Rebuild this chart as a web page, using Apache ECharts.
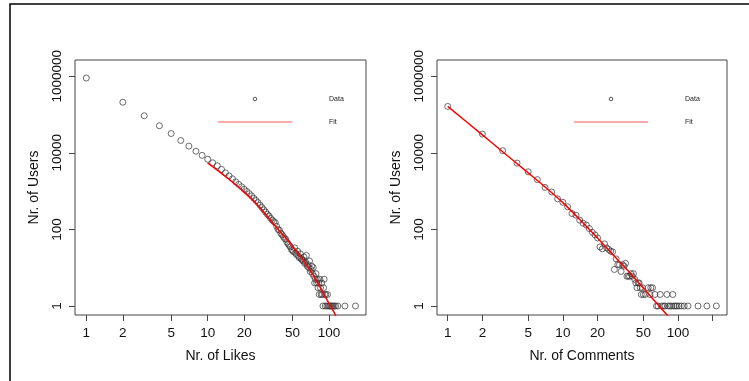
<!DOCTYPE html>
<html>
<head>
<meta charset="utf-8">
<script src="https://cdn.jsdelivr.net/npm/echarts@6/dist/echarts.min.js"></script>
<style>
html,body{margin:0;padding:0;background:#fff;}
#chart{width:749px;height:381px;}
</style>
</head>
<body>
<div id="chart"></div>
<script>
// ---- Data ----
const likesX = [1,2,3,4,5,6,7,8,9,10,11,12,13,14,15,16,17,18,19,20,21,22,23,24,25,26,27,28,29,30,31,32,33,34,35,36,37,38,39,40,41,42,43,44,45,46,47,48,49,50,51,52,53,54,55,56,57,58,59,60,61,62,63,64,65,66,67,68,69,70,71,72,73,74,75,76,77,78,79,80,81,82,83,84,85,86,87,88,89,90,91,92,93,94,96,97,99,101,103,105,107,110,113,118,135,165];
const likesUsers = [900000,210000,93000,51000,32000,21000,15000,11000,8600,6800,5500,4600,3700,3000,2500,2100,1750,1500,1300,1120,980,860,750,650,570,500,430,375,325,285,250,225,195,175,160,150,120,100,95,80,73,65,58,55,46,42,38,35,30,28,26,33,24,22,27,20,18,23,17,16,15,19,13,14,21,11,12,10,15,8,9,11,7,10,6,4,5,7,4,5,3,4,2,5,3,2,4,2,1,3,5,2,1,2,1,2,1,1,1,1,1,1,1,1,1,1];
const likesFitX = [10,12,15,20,25,30,35,40,45,50,60,70,80,90,100,110,115];
const likesFitY = [5500,3550,2040,955,480,250,138,83,55,37,17.4,8.5,4.2,2.1,1.17,0.68,0.5];

const commentsX = [1,2,3,4,5,6,7,8,9,10,11,12,13,14,15,16,17,18,19,20,21,22,23,24,25,26,27,28,29,30,31,32,33,34,35,36,37,38,39,40,41,42,43,44,45,46,47,48,49,50,52,55,57,58,60,63,65,67,70,72,75,77,80,82,85,88,90,92,95,98,102,107,113,122,149,178,215];
const commentsUsers = [163000,31000,11400,5400,3200,2000,1250,950,630,510,390,260,235,175,145,130,105,84,72,60,35,31,42,33,30,27,26,9,17,12,12,8,12,11,13,6,6,6,7,6,7,5,4,3,4,4,3,2,3,2,2,3,2,3,3,2,1,1,2,1,1,1,2,1,1,1,2,1,1,1,1,1,1,1,1,1,1];
const commentsFitX = [1,2,3,5,7,10,15,20,30,40,50,60,70,80,85];
const commentsFitY = [163000,29500,10700,3000,1290,500,148,60,16,6.3,2.95,1.58,0.93,0.59,0.48];

const xTicksLeft = [1,2,5,10,20,50,100];
const xTicksRight = [1,2,5,10,20,50,100,200];
const xLabelsRight = [1,2,5,10,20,50,100];
const yTicks = [1,100,10000,1000000];

const xTitleLeft = 'Nr. of Likes';
const xTitleRight = 'Nr. of Comments';
const yTitle = 'Nr. of Users';
const legendData = 'Data';
const legendFit = 'Fit';

// ---- helpers ----
const lg = v => Math.log10(v);
const pairs = (xs, ys) => xs.map((x, i) => [lg(x), lg(ys[i])]);
const FONT = '"Liberation Sans", Arial, Helvetica, sans-serif';
const fmt = v => String(Math.round(Math.pow(10, v)));

function xAxis(gridIndex, ticks, labels, maxLog, title) {
  return {
    type: 'value', gridIndex,
    min: -0.093, max: maxLog,
    axisLine: {show: false, onZero: false},
    splitLine: {show: false},
    axisTick: {show: true, length: 6, customValues: ticks.map(lg), lineStyle: {color: '#444', width: 1}},
    axisLabel: {customValues: labels.map(lg), formatter: fmt, fontSize: 13.5, color: '#111', fontFamily: FONT, margin: 11},
    name: title, nameLocation: 'middle', nameGap: 34, nameMoveOverlap: false,
    nameTextStyle: {fontSize: 14, color: '#111', fontFamily: FONT}
  };
}
function yAxis(gridIndex) {
  return {
    type: 'value', gridIndex,
    min: -0.235, max: 6.425,
    axisLine: {show: false, onZero: false},
    splitLine: {show: false},
    axisTick: {show: true, length: 6, customValues: yTicks.map(lg), lineStyle: {color: '#444', width: 1}},
    axisLabel: {customValues: yTicks.map(lg), formatter: fmt, fontSize: 13.5, color: '#111', fontFamily: FONT, rotate: 90, margin: 11},
    name: yTitle, nameLocation: 'middle', nameGap: 34, nameMoveOverlap: false,
    nameTextStyle: {fontSize: 14, color: '#111', fontFamily: FONT}
  };
}
function scatter(i, xs, ys) {
  return {type: 'scatter', xAxisIndex: i, yAxisIndex: i, data: pairs(xs, ys),
    symbol: 'circle', symbolSize: 6,
    itemStyle: {color: 'rgba(0,0,0,0)', borderColor: '#333', borderWidth: 0.9}, silent: true};
}
function fit(i, xs, ys) {
  return {type: 'line', xAxisIndex: i, yAxisIndex: i, data: pairs(xs, ys), smooth: 0.3,
    showSymbol: false, clip: true, lineStyle: {color: '#ff0000', width: 1.5}, silent: true};
}
function legendGraphics(cx, lx1, lx2, tx) {
  return [
    {type: 'circle', shape: {cx: cx, cy: 99, r: 1.8}, style: {fill: 'none', stroke: '#444', lineWidth: 0.9}},
    {type: 'line', shape: {x1: lx1, y1: 122, x2: lx2, y2: 122}, style: {stroke: '#ffaaaa', lineWidth: 2}},
    {type: 'text', x: tx, y: 99, style: {text: legendData, fontSize: 7, fill: '#222', fontFamily: FONT, verticalAlign: 'middle'}},
    {type: 'text', x: tx, y: 122, style: {text: legendFit, fontSize: 7, fill: '#222', fontFamily: FONT, verticalAlign: 'middle'}}
  ];
}

const chart = echarts.init(document.getElementById('chart'), null, {renderer: 'canvas'});
chart.setOption({
  animation: false,
  backgroundColor: '#fff',
  grid: [
    {left: 75, top: 60, width: 291, height: 255, show: true, borderColor: '#444', borderWidth: 1, backgroundColor: 'transparent'},
    {left: 437, top: 60, width: 290, height: 255, show: true, borderColor: '#444', borderWidth: 1, backgroundColor: 'transparent'}
  ],
  xAxis: [
    xAxis(0, xTicksLeft, xTicksLeft, 2.304, xTitleLeft),
    xAxis(1, xTicksRight, xLabelsRight, 2.425, xTitleRight)
  ],
  yAxis: [yAxis(0), yAxis(1)],
  series: [
    scatter(0, likesX, likesUsers),
    fit(0, likesFitX, likesFitY),
    scatter(1, commentsX, commentsUsers),
    fit(1, commentsFitX, commentsFitY)
  ],
  graphic: [
    {type: 'rect', shape: {x: 10, y: 4, width: 900, height: 500}, style: {fill: 'none', stroke: '#000', lineWidth: 1.5}, z: 100},
    ...legendGraphics(255, 218, 292, 329),
    ...legendGraphics(611, 574, 648, 685)
  ]
});
</script>
</body>
</html>
